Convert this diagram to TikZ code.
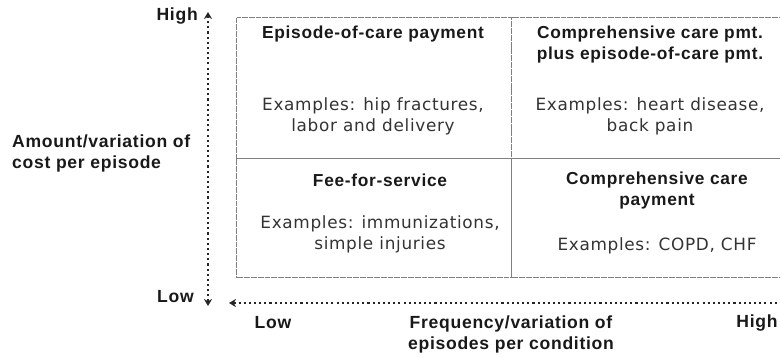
\documentclass[tikz,border=0pt]{standalone}
\usepackage{fontspec}
\setmainfont{Liberation Sans}
\newfontfamily\exfont[LetterSpace=4]{DejaVu Sans}
\newfontfamily\headfont[LetterSpace=4]{Liberation Sans Bold}
\usetikzlibrary{arrows.meta, positioning}

\tikzset{
  cell/.style={draw=black!50, line width=0.9pt, dash pattern=on 0.5pt off 0.5pt,
    inner sep=0pt, anchor=north west},
  axis/.style={black!85, line width=0.9pt, dash pattern=on 1.8pt off 2.6pt,
    {Stealth[length=6pt,width=7pt]}-{Stealth[length=6pt,width=7pt]}},
  title/.style={font=\fontsize{14.8}{18}\selectfont\headfont, align=center, text=black!90},
  ex/.style={font=\fontsize{14.4}{18}\selectfont\exfont, align=center, text=black!80},
  lbl/.style={font=\fontsize{15}{18}\selectfont\headfont, align=left, text=black!90, inner sep=0pt},
}

\begin{document}
\begin{tikzpicture}[x=0.03cm, y=-0.03cm]
\useasboundingbox (0,0) rectangle (780,356);
\clip (0,0) rectangle (780,356);

% the four cells of the grid
\node[cell, minimum width=8.25cm, minimum height=4.23cm] (epi) at (236,17) {};
\node[cell, minimum width=8.7cm, minimum height=4.23cm] (both) at (511,17) {};
\node[cell, minimum width=8.25cm, minimum height=3.57cm] (ffs) at (236,158) {};
\node[cell, minimum width=8.7cm, minimum height=3.57cm] (comp) at (511,158) {};

% cell texts
\node[title] (epiT) at (373,34) {Episode-of-care payment};
\node[ex] (epiE) at (373,116.5) {Examples: hip fractures,\\labor and delivery};
\node[title] (bothT) at (650,44.5) {Comprehensive care pmt.\\plus episode-of-care pmt.};
\node[ex] (bothE) at (650,116.5) {Examples: heart disease,\\back pain};
\node[title] (ffsT) at (380,180) {Fee-for-service};
\node[ex] (ffsE) at (380,234.5) {Examples: immunizations,\\simple injuries};
\node[title] (compT) at (657,190.5) {Comprehensive care\\payment};
\node[ex] (compE) at (657,246) {Examples: COPD, CHF};

% axes
\coordinate (ytop) at (208,12);
\coordinate (ybot) at (208,306);
\coordinate (xlo) at (229,303);
\coordinate (xhi) at (805,303);
\draw[axis] (ybot) -- (ytop);
\draw[axis] (xlo) -- (xhi);

% axis labels
\node[lbl, anchor=east] (yhigh) at (198,16) {High};
\node[lbl, anchor=east] (ylow) at (194,297) {Low};
\node[lbl, anchor=west] (ytitle) at (12,153.5) {Amount/variation of\\cost per episode};
\node[lbl] (xlow) at (273,323) {Low};
\node[lbl, align=center] (xtitle) at (511,334) {Frequency/variation of\\episodes per condition};
\node[lbl] (xhigh) at (757,323) {High};
\end{tikzpicture}
\end{document}
